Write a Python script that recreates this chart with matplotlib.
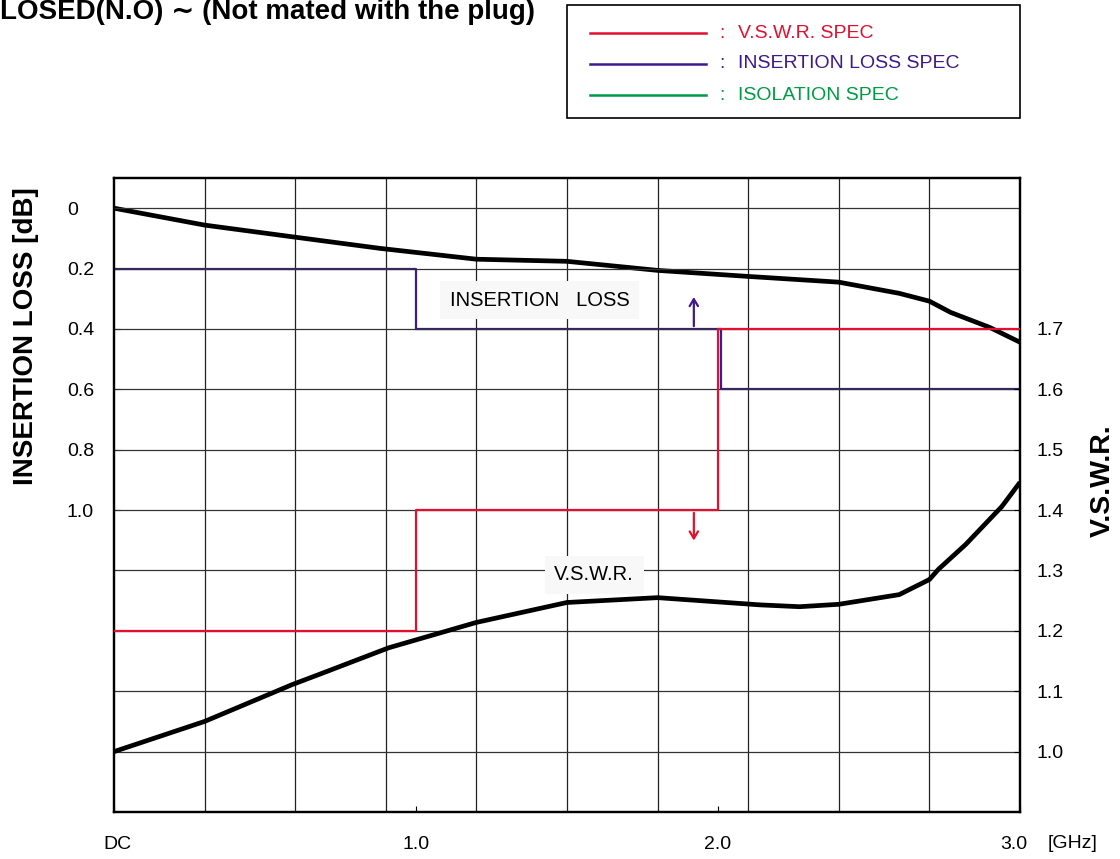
# Insertion loss / VSWR characteristic chart
import matplotlib
matplotlib.use('Agg')
import matplotlib.pyplot as plt
from matplotlib.patches import Rectangle
from matplotlib.lines import Line2D
from matplotlib.transforms import ScaledTranslation

plt.rcParams['font.family'] = ['Liberation Sans', 'DejaVu Sans']

# measured insertion loss curve [GHz, dB]
il_freq = [0, 0.3, 0.48, 0.6, 0.88, 1.2, 1.5, 1.8, 2.1, 2.4, 2.6, 2.7, 2.77, 2.9, 3.0]
il_val = [0, 0.056, 0.080, 0.096, 0.133, 0.169, 0.176, 0.206, 0.226, 0.245, 0.282, 0.308, 0.345, 0.395, 0.444]

# measured VSWR curve
vswr_freq = [0, 0.3, 0.59, 0.68, 0.91, 1.2, 1.5, 1.8, 2.14, 2.27, 2.4, 2.6, 2.7, 2.73, 2.82, 2.94, 3.0]
vswr_val = [1.0, 1.05, 1.111, 1.128, 1.172, 1.214, 1.247, 1.255, 1.243, 1.240, 1.244, 1.260, 1.285, 1.302, 1.343, 1.406, 1.446]

# spec limits (step lines)
il_spec_freq = [0, 1.0, 1.0, 2.01, 2.01, 3.0]
il_spec_val = [0.2, 0.2, 0.4, 0.4, 0.6, 0.6]
vswr_spec_freq = [0, 1.0, 1.0, 2.0, 2.0, 3.0]
vswr_spec_val = [1.2, 1.2, 1.4, 1.4, 1.7, 1.7]

# ticks / grid
x_ticks = [0, 1.0, 2.0, 3.0]
x_labels = ['DC', '1.0', '2.0', '3.0']
x_grid = [0.3, 0.6, 0.9, 1.2, 1.5, 1.8, 2.1, 2.4, 2.7]
il_ticks = [0, 0.2, 0.4, 0.6, 0.8, 1.0]
il_labels = ['0', '0.2', '0.4', '0.6', '0.8', '1.0']
vswr_ticks = [1.0, 1.1, 1.2, 1.3, 1.4, 1.5, 1.6, 1.7]
vswr_labels = ['1.0', '1.1', '1.2', '1.3', '1.4', '1.5', '1.6', '1.7']
vswr_grid = [1.0, 1.1, 1.2, 1.3, 1.4, 1.5, 1.6, 1.7, 1.8, 1.9]

spec_names = ['V.S.W.R. SPEC', 'INSERTION LOSS SPEC', 'ISOLATION SPEC']
red = '#e2102e'
purple = '#3e1a8c'
green = '#009a44'
spec_colors = [red, purple, green]

fig = plt.figure(figsize=(11.2, 8.59), dpi=100)
ax = fig.add_axes([114/1120, 1-812/859, 906/1120, 634/859])
ax2 = ax.twinx()

ax.set_xlim(0, 3.0)
ax.set_ylim(2.0, -0.1)
ax2.set_ylim(0.9, 1.95)

# grid
for g in x_grid:
    ax.axvline(g, color='#222222', lw=0.9, zorder=1)
for g in vswr_grid:
    ax2.axhline(g, color='#333333', lw=0.9, zorder=1)

# spec lines
ax.plot(il_spec_freq, il_spec_val, color=purple, lw=1.6, zorder=3)
ax2.plot(vswr_spec_freq, vswr_spec_val, color=red, lw=1.6, zorder=3)

# curves
ax.plot(il_freq, il_val, color='black', lw=3.4, zorder=4, solid_capstyle='butt')
ax2.plot(vswr_freq, vswr_val, color='black', lw=3.4, zorder=4, solid_capstyle='butt')

# arrows
ax.annotate('', xy=(1.92, 0.285), xytext=(1.92, 0.4),
            arrowprops=dict(arrowstyle='->,head_length=0.5,head_width=0.3', color=purple, lw=1.6))
ax2.annotate('', xy=(1.92, 1.345), xytext=(1.92, 1.4),
             arrowprops=dict(arrowstyle='->,head_length=0.5,head_width=0.3', color=red, lw=1.6))

# curve labels
ax.text(1.41, 0.305, 'INSERTION   LOSS', fontsize=14.5, ha='center', va='center', zorder=5,
        bbox=dict(facecolor='#f8f8f8', edgecolor='none', pad=7))
ax2.text(1.59, 1.293, 'V.S.W.R.', fontsize=14.5, ha='center', va='center', zorder=5,
         bbox=dict(facecolor='#f8f8f8', edgecolor='none', pad=7))

# axes formatting
ax.set_xticks(x_ticks)
ax.set_xticklabels(x_labels)
ax.set_yticks(il_ticks)
ax.set_yticklabels(il_labels)
ax2.set_yticks(vswr_ticks)
ax2.set_yticklabels(vswr_labels)
ax.tick_params(axis='x', direction='in', length=4, labelsize=14, pad=17)
ax.tick_params(axis='y', direction='in', length=4, labelsize=14, pad=34)
ax2.tick_params(axis='y', direction='in', length=4, labelsize=14, pad=12)
for lab in ax.get_yticklabels():
    lab.set_horizontalalignment('left')
# "3.0" sits slightly left of the frame edge
last = ax.get_xticklabels()[-1]
last.set_transform(last.get_transform() + ScaledTranslation(-0.06, 0, fig.dpi_scale_trans))
first = ax.get_xticklabels()[0]
first.set_transform(first.get_transform() + ScaledTranslation(0.03, 0, fig.dpi_scale_trans))

for a in (ax, ax2):
    for s in a.spines.values():
        s.set_linewidth(1.6)

ax.set_ylabel('INSERTION LOSS [dB]', fontsize=20, fontweight='bold')
ax.yaxis.set_label_coords(-0.083, 0.751)
ax2.set_ylabel('V.S.W.R.', fontsize=20.5, fontweight='bold', rotation=90)
ax2.yaxis.set_label_coords(1.077, 0.522)

fig.text(1073/1120, 1-843/859, '[GHz]', fontsize=14, ha='center', va='center')

# title (sits at the very top edge like the original)
fig.text(0.0, 1-19/859, 'LOSED(N.O) \u223c (Not mated with the plug)', fontsize=20,
         fontweight='bold', ha='left', va='baseline')

# legend box
fig.patches.append(Rectangle((567/1120, 1-118/859), 453/1120, 113/859, transform=fig.transFigure,
                             facecolor='white', edgecolor='black', lw=1.2))
leg_y = [33, 64, 95]
for name, col, yy in zip(spec_names, spec_colors, leg_y):
    fy = 1 - yy/859
    fig.lines.append(Line2D([590/1120, 706/1120], [fy, fy], transform=fig.transFigure, color=col, lw=1.8))
    fig.text(722/1120, fy, ':', color=col, fontsize=14, ha='center', va='center')
    fig.text(738/1120, fy, name, color=col, fontsize=14, ha='left', va='center')

fig.savefig('out.png', dpi=100)
